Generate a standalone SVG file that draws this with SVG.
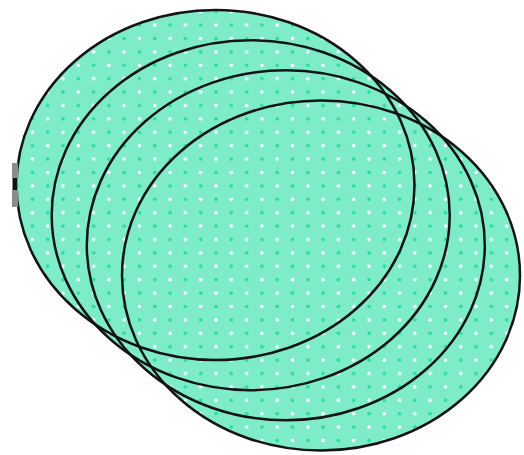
<svg xmlns="http://www.w3.org/2000/svg" width="524" height="455" viewBox="0 0 524 455">
<defs>
<pattern id="dots" patternUnits="userSpaceOnUse" x="216" y="212.7" width="30.6" height="26.8">
<rect x="0" y="0" width="30.6" height="26.8" fill="#7eecc9"/>
<circle cx="0" cy="0" r="1.8" fill="#ffffff"/>
<circle cx="30.6" cy="0" r="1.8" fill="#ffffff"/>
<circle cx="0" cy="26.8" r="1.8" fill="#ffffff"/>
<circle cx="30.6" cy="26.8" r="1.8" fill="#ffffff"/>
<circle cx="15.3" cy="13.4" r="1.8" fill="#ffffff"/>
<circle cx="15.3" cy="0" r="1.8" fill="#22dba6"/>
<circle cx="15.3" cy="26.8" r="1.8" fill="#22dba6"/>
<circle cx="0" cy="13.4" r="1.8" fill="#22dba6"/>
<circle cx="30.6" cy="13.4" r="1.8" fill="#22dba6"/>
</pattern>
</defs>
<style>
.fill{fill:url(#dots);stroke:none}
.line{fill:none;stroke:#141414;stroke-width:2.5}
</style>
<g id="fills">
<ellipse class="fill" cx="215.5" cy="185" rx="199" ry="175"/>
<ellipse class="fill" cx="250.7" cy="215.2" rx="199" ry="175"/>
<ellipse class="fill" cx="285.8" cy="245.3" rx="199" ry="175"/>
<ellipse class="fill" cx="321" cy="275.5" rx="199" ry="175"/>
</g>
<g id="outlines">
<ellipse id="e1" class="line" cx="215.5" cy="185" rx="199" ry="175"/>
<ellipse id="e2" class="line" cx="250.7" cy="215.2" rx="199" ry="175"/>
<ellipse id="e3" class="line" cx="285.8" cy="245.3" rx="199" ry="175"/>
<ellipse id="e4" class="line" cx="321" cy="275.5" rx="199" ry="175"/>
</g>
<g id="mark">
<rect x="12" y="163" width="6" height="44" fill="#8c8c8c"/>
<rect x="13" y="178" width="4" height="12" fill="#111"/>
</g>
</svg>
